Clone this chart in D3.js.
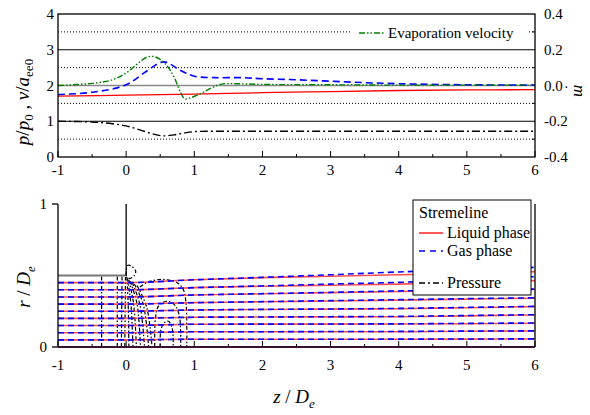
<!DOCTYPE html>
<html>
<head>
<meta charset="utf-8">
<script src="https://cdn.jsdelivr.net/npm/d3@7"></script>
<style>
  html, body { margin: 0; padding: 0; background: #fff; }
  svg { display: block; }
</style>
</head>
<body>
<svg id="chart" width="590" height="415" font-family="'Liberation Serif', 'Times New Roman', 'DejaVu Serif', serif"></svg>
<script>
// ---------- upper panel data (left axis units: p/p0, v/a) ----------
const xTicks = [-1, 0, 1, 2, 3, 4, 5, 6];
const yTicksTop = [0, 1, 2, 3, 4];
const mTicks = [-0.4, -0.2, 0.0, 0.2, 0.4];
const yTicksBottom = [0, 1];

const liquidZ = [-1, 0, 1, 2, 3, 4, 5, 6];
const liquidV = [1.70, 1.73, 1.76, 1.80, 1.83, 1.86, 1.875, 1.885];

const gasZ = [-1, -0.5, 0, 0.3, 0.55, 0.8, 1.0, 1.3, 1.7, 2, 2.5, 3, 3.5, 4, 5, 6];
const gasV = [1.75, 1.81, 2.02, 2.4, 2.66, 2.42, 2.26, 2.22, 2.22, 2.19, 2.16, 2.12, 2.08, 2.05, 2.02, 2.01];

const evapZ = [-1, -0.5, -0.2, 0, 0.15, 0.3, 0.4, 0.5, 0.6, 0.7, 0.8, 0.86, 0.95, 1.1, 1.25, 1.4, 1.6, 2, 3, 4, 5, 6];
const evapV = [2.0, 2.06, 2.16, 2.35, 2.58, 2.79, 2.81, 2.73, 2.55, 2.25, 1.8, 1.63, 1.66, 1.78, 1.93, 2.04, 2.05, 2.03, 2.02, 2.01, 2.01, 2.01];

const pressZ = [-1, -0.5, -0.2, 0, 0.2, 0.4, 0.55, 0.7, 0.85, 1, 1.3, 2, 3, 4, 5, 6];
const pressV = [1.0, 0.98, 0.93, 0.87, 0.76, 0.64, 0.59, 0.62, 0.67, 0.71, 0.72, 0.72, 0.72, 0.72, 0.72, 0.72];

// ---------- lower panel data: streamlines r(z) ----------
const streamZ = [-1, 0, 1, 2, 3, 4, 5, 6];
const liquidStreams = [
  [0, 0, 0, 0, 0, 0, 0, 0],
  [0.05, 0.05, 0.054, 0.054, 0.054, 0.054, 0.055, 0.056],
  [0.10, 0.10, 0.107, 0.107, 0.107, 0.107, 0.110, 0.112],
  [0.15, 0.15, 0.159, 0.160, 0.160, 0.161, 0.163, 0.166],
  [0.20, 0.20, 0.208, 0.210, 0.211, 0.212, 0.218, 0.224],
  [0.25, 0.25, 0.259, 0.262, 0.265, 0.268, 0.275, 0.282],
  [0.30, 0.30, 0.310, 0.316, 0.322, 0.328, 0.335, 0.341],
  [0.35, 0.35, 0.364, 0.372, 0.380, 0.388, 0.396, 0.403],
  [0.40, 0.40, 0.415, 0.425, 0.432, 0.440, 0.452, 0.464],
  [0.45, 0.45, 0.470, 0.485, 0.495, 0.505, 0.515, 0.527]
];
const gasStreams = [
  [0, 0, 0, 0, 0, 0, 0, 0],
  [0.05, 0.05, 0.054, 0.054, 0.054, 0.055, 0.056, 0.057],
  [0.10, 0.10, 0.107, 0.107, 0.108, 0.109, 0.111, 0.113],
  [0.15, 0.15, 0.159, 0.160, 0.161, 0.162, 0.165, 0.168],
  [0.20, 0.20, 0.208, 0.210, 0.212, 0.214, 0.220, 0.226],
  [0.25, 0.25, 0.259, 0.263, 0.266, 0.270, 0.277, 0.284],
  [0.30, 0.30, 0.310, 0.317, 0.324, 0.331, 0.338, 0.344],
  [0.35, 0.35, 0.364, 0.373, 0.382, 0.392, 0.399, 0.405],
  [0.40, 0.40, 0.415, 0.427, 0.440, 0.452, 0.470, 0.492],
  [0.45, 0.45, 0.470, 0.487, 0.505, 0.525, 0.540, 0.557]
];

// pressure contours as [z, r] polylines
const pressureContours = [
  [[-0.36, 0], [-0.36, 0.5]],
  [[-0.13, 0], [-0.13, 0.5]],
  [[-0.07, 0], [-0.06, 0.5]],
  [[-0.02, 0], [-0.01, 0.49]],
  [[0.01, 0.49], [0.03, 0.3], [0.04, 0]],
  [[0.02, 0.48], [0.07, 0.3], [0.10, 0]],
  [[0.04, 0.47], [0.11, 0.3], [0.15, 0]],
  [[0.06, 0.46], [0.16, 0.3], [0.21, 0]],
  [[0.09, 0.45], [0.20, 0.3], [0.27, 0]],
  [[0.12, 0.44], [0.25, 0.3], [0.33, 0]],
  [[0.16, 0.43], [0.30, 0.28], [0.38, 0]],
  [[0.20, 0.42], [0.30, 0.45], [0.45, 0.47], [0.60, 0.47], [0.75, 0.45], [0.84, 0.40], [0.88, 0.30], [0.89, 0.15], [0.89, 0]],
  [[0.42, 0], [0.43, 0.20], [0.48, 0.29], [0.60, 0.32], [0.72, 0.29], [0.78, 0.22], [0.80, 0.10], [0.80, 0]],
  [[0.50, 0], [0.51, 0.12], [0.56, 0.17], [0.62, 0.18], [0.67, 0.14], [0.69, 0.07], [0.69, 0]],
  [[0.0, 0.5], [0.02, 0.57], [0.08, 0.565], [0.14, 0.53], [0.12, 0.5], [0.05, 0.48], [0.0, 0.5]]
];

// nozzle wall: lip line and exit face
const nozzleWall = [[-1, 0.5], [0, 0.5]];
const nozzleFace = [[0, 0.5], [0, 1]];

// ---------- layout ----------
const svg = d3.select("#chart");
const X0 = 58, X1 = 535;
const TOP_T = 14, TOP_B = 157;
const BOT_T = 204, BOT_B = 347;

const x = d3.scaleLinear().domain([-1, 6]).range([X0, X1]);
const yTop = d3.scaleLinear().domain([0, 4]).range([TOP_B, TOP_T]);
const yM = d3.scaleLinear().domain([-0.4, 0.4]).range([TOP_B, TOP_T]);
const yBot = d3.scaleLinear().domain([0, 1]).range([BOT_B, BOT_T]);

// ---------- upper panel ----------
const upper = svg.append("g");

// horizontal grid: solid at integers, dotted at halves
d3.range(0.5, 4, 1).forEach(v => {
  upper.append("line").attr("x1", X0).attr("x2", X1)
    .attr("y1", yTop(v)).attr("y2", yTop(v))
    .attr("stroke", "#000").attr("stroke-width", 1).attr("stroke-dasharray", "1,2");
});
[1, 3].forEach(v => {
  upper.append("line").attr("x1", X0).attr("x2", X1)
    .attr("y1", yTop(v)).attr("y2", yTop(v))
    .attr("stroke", "#000").attr("stroke-width", 1);
});
upper.append("line").attr("x1", X0).attr("x2", X1)
  .attr("y1", yM(0)).attr("y2", yM(0))
  .attr("stroke", "#888").attr("stroke-width", 1.6);

const lineTop = (zs, vs) => d3.line()
  .x((d, i) => x(zs[i])).y(d => yTop(d))
  .curve(d3.curveCatmullRom.alpha(0.5))(vs);

upper.append("path").attr("d", lineTop(liquidZ, liquidV))
  .attr("fill", "none").attr("stroke", "#ff0000").attr("stroke-width", 1.3);
upper.append("path").attr("d", lineTop(gasZ, gasV))
  .attr("fill", "none").attr("stroke", "#0000ff").attr("stroke-width", 1.6)
  .attr("stroke-dasharray", "7,4");
upper.append("path").attr("d", lineTop(evapZ, evapV))
  .attr("fill", "none").attr("stroke", "#008000").attr("stroke-width", 1.4)
  .attr("stroke-dasharray", "6,2,1.5,2,1.5,2");
upper.append("path").attr("d", lineTop(pressZ, pressV))
  .attr("fill", "none").attr("stroke", "#000").attr("stroke-width", 1.4)
  .attr("stroke-dasharray", "8,3,2,3");

// legend
upper.append("rect").attr("x", 350).attr("y", 24).attr("width", 178).attr("height", 18).attr("fill", "#fff");
upper.append("line").attr("x1", 359).attr("x2", 384).attr("y1", 33).attr("y2", 33)
  .attr("stroke", "#008000").attr("stroke-width", 1.4).attr("stroke-dasharray", "6,2,1.5,2,1.5,2");
upper.append("text").attr("x", 388).attr("y", 38).attr("font-size", 15).text("Evaporation velocity");

// frame
upper.append("rect").attr("x", X0).attr("y", TOP_T).attr("width", X1 - X0).attr("height", TOP_B - TOP_T)
  .attr("fill", "none").attr("stroke", "#000").attr("stroke-width", 1.3);

// x ticks (inward)
d3.range(-1, 6.01, 0.5).forEach(v => {
  const major = Math.abs(v - Math.round(v)) < 1e-6;
  upper.append("line").attr("x1", x(v)).attr("x2", x(v))
    .attr("y1", TOP_B).attr("y2", TOP_B - (major ? 6 : 3))
    .attr("stroke", "#000").attr("stroke-width", 1);
});
xTicks.forEach(v => {
  upper.append("text").attr("x", x(v)).attr("y", 175).attr("text-anchor", "middle")
    .attr("font-size", 15).text(v);
});
yTicksTop.forEach(v => {
  upper.append("text").attr("x", 54).attr("y", yTop(v) + 5).attr("text-anchor", "end")
    .attr("font-size", 15).text(v);
});
// right axis (m) minor ticks and labels
[-0.3, -0.1, 0.1, 0.3].forEach(v => {
  upper.append("line").attr("x1", X1).attr("x2", X1 - 3)
    .attr("y1", yM(v)).attr("y2", yM(v)).attr("stroke", "#000").attr("stroke-width", 1);
});
mTicks.forEach(v => {
  upper.append("text").attr("x", 544).attr("y", yM(v) + 5).attr("font-size", 15)
    .text(d3.format(".1f")(v).replace("−", "-"));
});

// axis titles
const leftTitle = upper.append("text")
  .attr("transform", "translate(29,102) rotate(-90)")
  .attr("text-anchor", "middle").attr("font-size", 19).attr("font-style", "italic");
leftTitle.append("tspan").text("p");
leftTitle.append("tspan").attr("font-style", "normal").text("/");
leftTitle.append("tspan").text("p");
leftTitle.append("tspan").attr("font-size", 13).attr("dy", 4).attr("font-style", "normal").text("0");
leftTitle.append("tspan").attr("dy", -4).attr("font-style", "normal").text(" , ");
leftTitle.append("tspan").text("v");
leftTitle.append("tspan").attr("font-style", "normal").text("/");
leftTitle.append("tspan").text("a");
leftTitle.append("tspan").attr("font-size", 13).attr("dy", 4).attr("font-style", "normal").text("ee0");

upper.append("text").attr("x", 564).attr("y", 92).attr("font-size", 14).text("·");
upper.append("text").attr("transform", "translate(574,91) rotate(90)")
  .attr("text-anchor", "middle").attr("font-size", 17).attr("font-style", "italic").text("m");

// ---------- lower panel ----------
const lower = svg.append("g");
const lineBot = d3.line().x(d => x(d[0])).y(d => yBot(d[1]));
const streamLine = rs => d3.line()
  .x((d, i) => x(streamZ[i])).y(d => yBot(d))
  .curve(d3.curveMonotoneX)(rs);

// pressure contours
pressureContours.forEach(c => {
  lower.append("path").attr("d", lineBot.curve(d3.curveCatmullRom.alpha(0.5))(c))
    .attr("fill", "none").attr("stroke", "#000").attr("stroke-width", 1.2)
    .attr("stroke-dasharray", "4,2,1.5,2");
});

// streamlines
liquidStreams.forEach(rs => {
  lower.append("path").attr("d", streamLine(rs))
    .attr("fill", "none").attr("stroke", "#ff3030").attr("stroke-width", 1.6).attr("stroke-opacity", 0.85);
});
gasStreams.forEach(rs => {
  lower.append("path").attr("d", streamLine(rs))
    .attr("fill", "none").attr("stroke", "#0000ff").attr("stroke-width", 1.6)
    .attr("stroke-dasharray", "6,4");
});

// nozzle
lower.append("path").attr("d", lineBot.curve(d3.curveLinear)(nozzleWall))
  .attr("fill", "none").attr("stroke", "#777").attr("stroke-width", 2);
lower.append("path").attr("d", lineBot.curve(d3.curveLinear)(nozzleFace))
  .attr("fill", "none").attr("stroke", "#000").attr("stroke-width", 1.3);

// axes lines
lower.append("line").attr("x1", X0).attr("x2", X0).attr("y1", BOT_T).attr("y2", BOT_B)
  .attr("stroke", "#000").attr("stroke-width", 1.3);
lower.append("line").attr("x1", X1).attr("x2", X1).attr("y1", BOT_T).attr("y2", BOT_B)
  .attr("stroke", "#000").attr("stroke-width", 1.3);
lower.append("line").attr("x1", X0).attr("x2", X1).attr("y1", BOT_B).attr("y2", BOT_B)
  .attr("stroke", "#3a1030").attr("stroke-width", 1.8);

yTicksBottom.forEach(v => {
  lower.append("line").attr("x1", X0 - 6).attr("x2", X0).attr("y1", yBot(v)).attr("y2", yBot(v))
    .attr("stroke", "#000").attr("stroke-width", 1.3);
  lower.append("text").attr("x", 47).attr("y", yBot(v) + 5).attr("text-anchor", "end")
    .attr("font-size", 15).text(v);
});
d3.range(-1, 6.01, 0.5).forEach(v => {
  const major = Math.abs(v - Math.round(v)) < 1e-6;
  lower.append("line").attr("x1", x(v)).attr("x2", x(v))
    .attr("y1", BOT_B).attr("y2", BOT_B - (major ? 6 : 3))
    .attr("stroke", "#000").attr("stroke-width", 1);
});
xTicks.forEach(v => {
  lower.append("text").attr("x", x(v)).attr("y", 370).attr("text-anchor", "middle")
    .attr("font-size", 15).text(v);
});

// legend
const lg = lower.append("g");
lg.append("rect").attr("x", 413).attr("y", 200).attr("width", 118).attr("height", 95)
  .attr("fill", "#fff").attr("stroke", "#000").attr("stroke-width", 1);
lg.append("text").attr("x", 419).attr("y", 218).attr("font-size", 16).text("Stremeline");
lg.append("line").attr("x1", 419).attr("x2", 443).attr("y1", 233).attr("y2", 233)
  .attr("stroke", "#ff0000").attr("stroke-width", 1.3);
lg.append("text").attr("x", 447).attr("y", 238).attr("font-size", 16).text("Liquid phase");
lg.append("line").attr("x1", 419).attr("x2", 443).attr("y1", 251).attr("y2", 251)
  .attr("stroke", "#0000ff").attr("stroke-width", 1.6).attr("stroke-dasharray", "6,5");
lg.append("text").attr("x", 447).attr("y", 256).attr("font-size", 16).text("Gas phase");
lg.append("line").attr("x1", 419).attr("x2", 443).attr("y1", 283).attr("y2", 283)
  .attr("stroke", "#000").attr("stroke-width", 1.3).attr("stroke-dasharray", "6,3,2,3");
lg.append("text").attr("x", 447).attr("y", 288).attr("font-size", 16).text("Pressure");

// axis titles
const rTitle = lower.append("text").attr("transform", "translate(30,287) rotate(-90)")
  .attr("text-anchor", "middle").attr("font-size", 19);
rTitle.append("tspan").attr("font-style", "italic").text("r");
rTitle.append("tspan").text(" / ");
rTitle.append("tspan").attr("font-style", "italic").text("D");
rTitle.append("tspan").attr("font-style", "italic").attr("font-size", 13).attr("dy", 5).text("e");

const zTitle = lower.append("text").attr("x", 294).attr("y", 403)
  .attr("text-anchor", "middle").attr("font-size", 19);
zTitle.append("tspan").attr("font-style", "italic").text("z");
zTitle.append("tspan").text(" / ");
zTitle.append("tspan").attr("font-style", "italic").text("D");
zTitle.append("tspan").attr("font-style", "italic").attr("font-size", 13).attr("dy", 5).text("e");
</script>
</body>
</html>
